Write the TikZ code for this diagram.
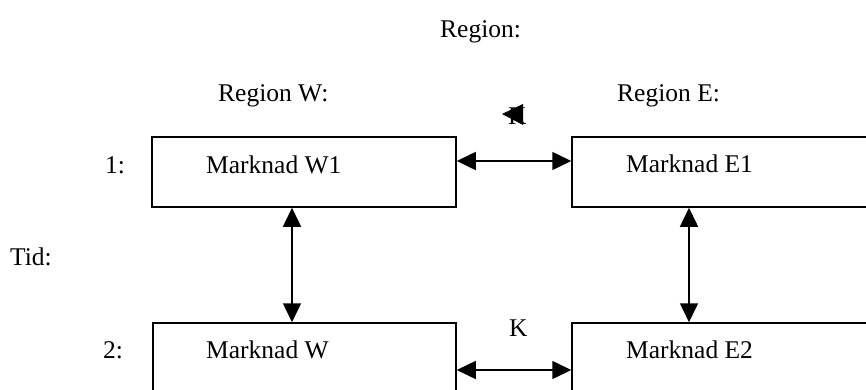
\documentclass[tikz,border=0pt]{standalone}
\usepackage{fontspec}
\setmainfont{Liberation Serif}
\usetikzlibrary{arrows.meta}
\begin{document}
\begin{tikzpicture}[x=1pt,y=-1pt,
  every node/.style={font=\fontsize{25.5}{30}\selectfont},
  txt/.style={anchor=base west,inner sep=0pt},
  box/.style={draw,line width=1.5pt,rectangle,inner sep=0pt},
  dbl/.style={line width=1.5pt,{Triangle[length=19pt,width=18pt]}-{Triangle[length=19pt,width=18pt]}}]
\useasboundingbox (0,0) rectangle (866,390);
\clip (0,0) rectangle (866,390);
% boxes
\node[box,minimum width=304pt,minimum height=70pt] (w1) at (304,172) {};
\node[box,minimum width=340pt,minimum height=70pt] (e1) at (742,172) {};
\node[box,minimum width=303pt,minimum height=100pt] (w2) at (304.5,373) {};
\node[box,minimum width=340pt,minimum height=100pt] (e2) at (742,373) {};
% texts
\node[txt] (region) at (440,38) {Region:};
\node[txt] (regw) at (218,102) {Region W:};
\node[txt] (rege) at (617,102) {Region E:};
\node[txt] (one) at (105,173) {1:};
\node[txt] (tid) at (10,265) {Tid:};
\node[txt] (two) at (103,358) {2:};
\node[txt] (w1t) at (206,173) {Marknad W1};
\node[txt] (e1t) at (626,172) {Marknad E1};
\node[txt] (w2t) at (206,358) {Marknad W};
\node[txt] (e2t) at (626,358) {Marknad E2};
\node[txt] (ktop) at (508,125) {K};
\node[txt] (kbot) at (509,336) {K};
\fill (502,114) -- (523,104) -- (523,125) -- cycle;
% connectors
\draw[dbl] (w1.east |- 0,161) -- (e1.west |- 0,161);
\draw[dbl] (w2.east |- 0,370) -- (e2.west |- 0,370);
\draw[dbl] (w1.south -| 292,0) -- (w2.north -| 292,0);
\draw[dbl] (e1.south -| 689,0) -- (e2.north -| 689,0);
\end{tikzpicture}
\end{document}
